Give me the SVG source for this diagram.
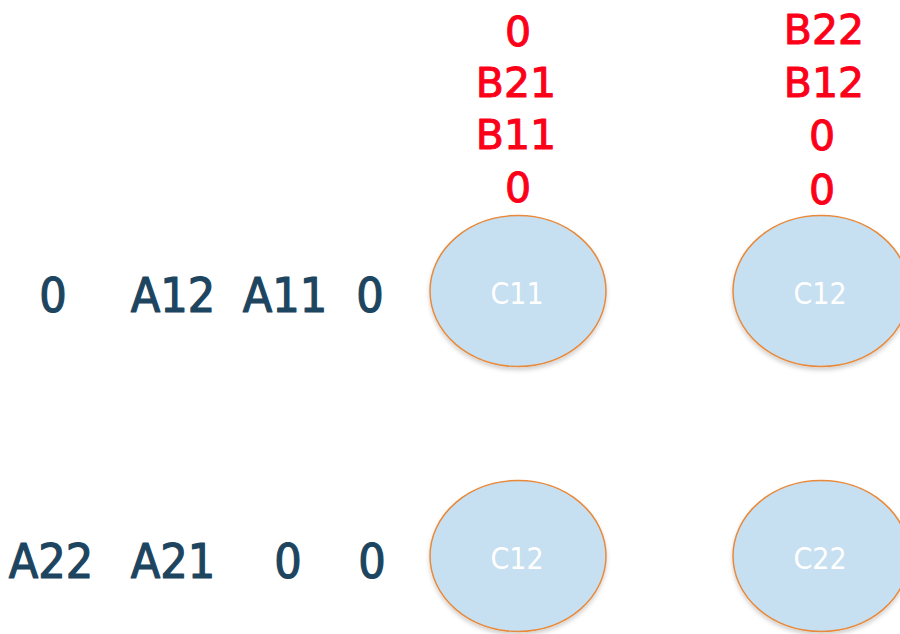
<svg xmlns="http://www.w3.org/2000/svg" width="900" height="634" viewBox="0 0 900 634">
  <style>
    .cell ellipse { fill: #c6e0f1; stroke: #e8893a; stroke-width: 1.5; }
    .cell text { font-family: "DejaVu Sans Condensed", "DejaVu Sans", sans-serif; font-size: 30px; fill: #ffffff; text-anchor: middle; }
    .b { font-family: "DejaVu Sans", Verdana, sans-serif; font-size: 41px; fill: #fc0019; stroke: #fc0019; stroke-width: 1; stroke-linejoin: round; text-anchor: middle; }
    .a { font-family: "DejaVu Sans Condensed", "DejaVu Sans", sans-serif; font-size: 48px; fill: #1d4560; stroke: #1d4560; stroke-width: 1.2; stroke-linejoin: round; text-anchor: middle; }
  </style>
  <defs>
    <filter id="shadow" x="-20%" y="-20%" width="140%" height="150%">
      <feDropShadow dx="0" dy="3" stdDeviation="2" flood-color="#000000" flood-opacity="0.18"/>
    </filter>
  </defs>
  <rect width="900" height="634" fill="#ffffff"/>

  <!-- B columns fed from the top -->
  <g id="b-col1">
    <text class="b" x="518" y="46">0</text>
    <text class="b" x="516" y="97">B21</text>
    <text class="b" x="516" y="149">B11</text>
    <text class="b" x="518" y="202">0</text>
  </g>
  <g id="b-col2">
    <text class="b" x="824" y="44">B22</text>
    <text class="b" x="824" y="97">B12</text>
    <text class="b" x="822" y="150">0</text>
    <text class="b" x="822" y="204">0</text>
  </g>

  <!-- A rows fed from the left -->
  <g id="a-row1">
    <text class="a" x="53" y="312">0</text>
    <text class="a" x="173" y="312">A12</text>
    <text class="a" x="285" y="312">A11</text>
    <text class="a" x="370" y="312">0</text>
  </g>
  <g id="a-row2">
    <text class="a" x="51" y="578">A22</text>
    <text class="a" x="173" y="578">A21</text>
    <text class="a" x="288" y="578">0</text>
    <text class="a" x="372" y="578">0</text>
  </g>

  <!-- processing cells -->
  <g id="cell-11" class="cell">
    <ellipse cx="518" cy="291" rx="88" ry="75.5" filter="url(#shadow)"/>
    <text x="517" y="304">C11</text>
  </g>
  <g id="cell-12-top" class="cell">
    <ellipse cx="821" cy="291" rx="88" ry="75.5" filter="url(#shadow)"/>
    <text x="820" y="304">C12</text>
  </g>
  <g id="cell-12-bottom" class="cell">
    <ellipse cx="518" cy="556" rx="88" ry="75.5" filter="url(#shadow)"/>
    <text x="517" y="569">C12</text>
  </g>
  <g id="cell-22" class="cell">
    <ellipse cx="821" cy="556" rx="88" ry="75.5" filter="url(#shadow)"/>
    <text x="820" y="569">C22</text>
  </g>

  <g id="connectors"/>
</svg>
